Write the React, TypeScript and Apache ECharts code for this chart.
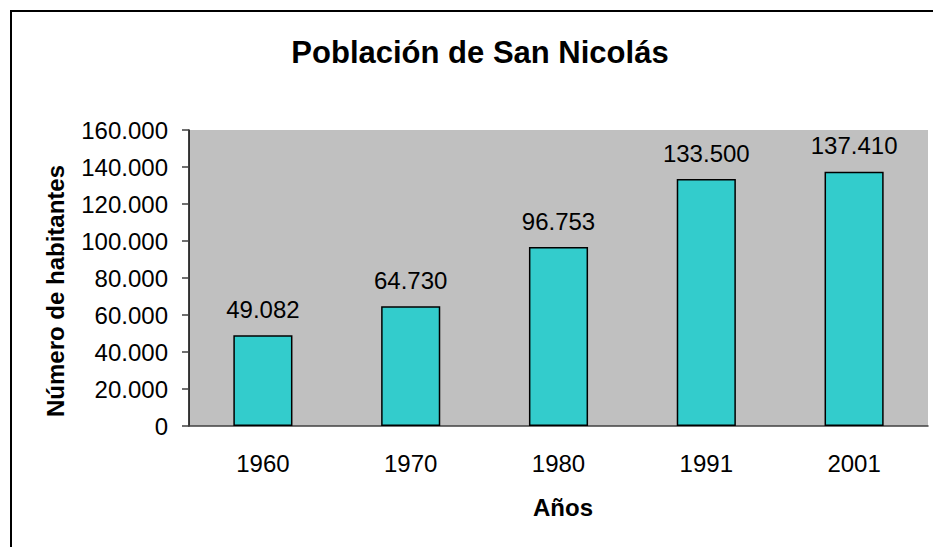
import React, { useEffect, useRef } from "react";
import * as echarts from "echarts";

const years = ["1960", "1970", "1980", "1991", "2001"];
const population = [49082, 64730, 96753, 133500, 137410];
const yMax = 160000;
const yInterval = 20000;
const titleText = "Población de San Nicolás";
const yAxisName = "Número de habitantes";
const xAxisName = "Años";

const FONT = "'Liberation Sans', Arial, sans-serif";
const fmt = (v: number) => String(v).replace(/\B(?=(\d{3})+(?!\d))/g, ".");

export default function App() {
  const ref = useRef<HTMLDivElement>(null);
  useEffect(() => {
    if (!ref.current) return;
    const chart = echarts.init(ref.current, null, { renderer: "svg" });
    chart.setOption({
      animation: false,
      backgroundColor: "#ffffff",
      grid: { left: 189, top: 130, right: 5, bottom: 121, show: true, backgroundColor: "#C0C0C0", borderWidth: 0 },
      graphic: [
        { type: "rect", shape: { x: 11, y: 11, width: 1000, height: 1000 }, style: { fill: "none", stroke: "#000", lineWidth: 2 }, z: 100 },
        { type: "text", x: 480, y: 52, style: { text: titleText, font: `bold 31px ${FONT}`, fill: "#000", textAlign: "center", textVerticalAlign: "middle" } },
        { type: "text", x: 55, y: 291, rotation: Math.PI / 2, style: { text: yAxisName, font: `bold 24px ${FONT}`, fill: "#000", textAlign: "center", textVerticalAlign: "middle" } },
        { type: "text", x: 563, y: 507, style: { text: xAxisName, font: `bold 24px ${FONT}`, fill: "#000", textAlign: "center", textVerticalAlign: "middle" } },
      ],
      xAxis: {
        type: "category",
        data: years,
        axisLine: { show: true, lineStyle: { color: "#404040", width: 1.5 } },
        axisTick: { show: false },
        axisLabel: { color: "#000", fontFamily: FONT, fontSize: 24, margin: 25 },
        splitLine: { show: false },
      },
      yAxis: {
        type: "value",
        min: 0,
        max: yMax,
        interval: yInterval,
        axisLine: { show: true, lineStyle: { color: "#000", width: 1.5 } },
        axisTick: { show: true, inside: false, length: 7, lineStyle: { color: "#404040", width: 1.5 } },
        axisLabel: { color: "#000", fontFamily: FONT, fontSize: 24, margin: 21, formatter: (v: number) => fmt(v) },
        splitLine: { show: false },
      },
      series: [
        {
          type: "bar",
          data: population,
          barWidth: "40%",
          itemStyle: { color: "#33CCCC", borderColor: "#000", borderWidth: 1.5 },
          label: {
            show: true,
            position: "top",
            distance: 14,
            color: "#000",
            fontFamily: FONT,
            fontSize: 24,
            formatter: (p: any) => fmt(p.value),
          },
        },
      ],
    });
    return () => chart.dispose();
  }, []);
  return <div ref={ref} style={{ position: "fixed", left: 0, top: 0, width: 933, height: 547 }} />;
}
